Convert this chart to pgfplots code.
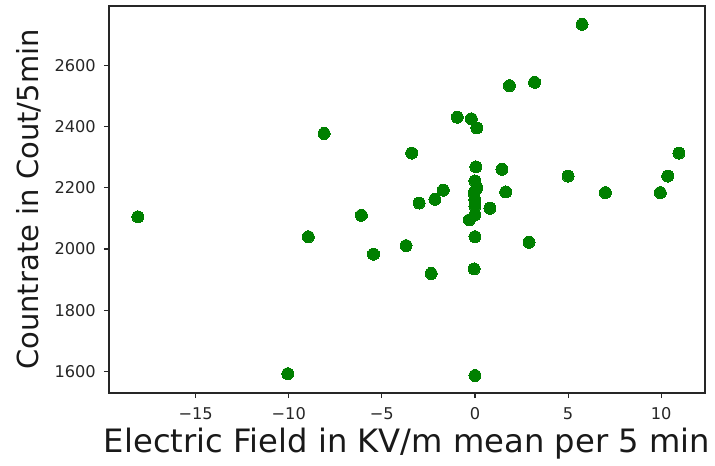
\documentclass[border=0pt]{standalone}
\usepackage{pgfplots}
\pgfplotsset{compat=1.18}
\usepackage{fontspec}
\setmainfont{DejaVu Sans}
\definecolor{mplgreen}{HTML}{008000}
\pgfplotstableread{
x y
-18.1 2105
-10.05 1593
-8.95 2040
-8.1 2377
-6.1 2110
-5.45 1983
-3.7 2011
-3.4 2313
-3.0 2150
-2.35 1920
-2.15 2162
-1.7 2192
-0.95 2430
-0.2 2425
0.1 2395
0.05 2268
1.45 2260
0.0 2222
0.1 2200
-0.05 2182
1.65 2186
0.0 2160
0.0 2140
0.8 2133
0.0 2112
-0.3 2095
0.0 2040
2.9 2022
-0.05 1935
0.0 1587
1.85 2533
3.2 2544
5.75 2733
5.0 2238
7.0 2184
9.95 2184
10.35 2238
10.95 2313
}\datatable
\begin{document}
\begin{tikzpicture}
\begin{axis}[
  scale only axis,
  width=596pt, height=387pt,
  xmin=-19.65, xmax=12.35,
  ymin=1530, ymax=2793,
  axis line style={black!85, line width=1.1pt},
  tick style={black!85, line width=1.1pt},
  major tick length=5pt,
  tick align=outside,
  xtick pos=bottom, ytick pos=left,
  xtick={-15,-10,-5,0,5,10},
  xticklabels={−15,−10,−5,0,5,10},
  ytick={1600,1800,2000,2200,2400,2600},
  yticklabels={1600,1800,2000,2200,2400,2600},
  ticklabel style={font=\fontsize{16.2}{19}\selectfont, text=black!85},
  xticklabel style={inner sep=0pt, anchor=north, yshift=-9pt},
  yticklabel style={inner sep=0pt, anchor=east, xshift=-8pt},
  xlabel={Electric Field in KV/m mean per 5 min},
  ylabel={Countrate in Cout/5min},
  xlabel style={font=\fontsize{32.2}{38}\selectfont, text=black!90, at={(axis description cs:0.5,-0.155)}, anchor=base},
  ylabel style={font=\fontsize{29}{34}\selectfont, text=black!90, at={(axis description cs:-0.1191,0.5)}, anchor=base, rotate=0},
]
\addplot[only marks, color=mplgreen, mark=*, mark size=6pt, mark options={fill=mplgreen, draw=mplgreen, line width=0pt}] table[x=x,y=y] {\datatable};
\end{axis}
\path ([xshift=-109pt,yshift=-72pt]current axis.south west) rectangle ([xshift=10pt,yshift=6pt]current axis.north east);
\end{tikzpicture}
\end{document}
